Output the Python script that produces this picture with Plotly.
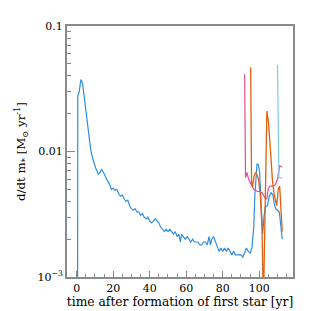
import plotly.graph_objects as go

# ---- data ----
blue_t = [0.5, 0.6, 1.4, 2.3, 3.2, 4.0, 5.0, 5.9, 6.8, 7.7, 8.6, 9.5, 10.4, 11.2, 11.8, 12.7, 13.6, 14.5,
          15.3, 16.2, 17.0, 18.0, 19.0, 20.0, 21.0, 22.0, 23.0, 24.0, 25.0, 26.0, 27.0, 28.0, 29.0, 30.0,
          31.0, 32.0, 33.0, 34.0, 35.0, 36.0, 37.0, 38.0, 39.0, 40.0, 41.0, 42.0, 43.0, 44.0, 45.0, 46.0,
          47.0, 48.0, 49.0, 50.0, 51.0, 52.0, 53.0, 54.0, 55.0, 56.0, 56.8, 57.5, 58.5, 59.5, 60.5, 61.5,
          62.5, 63.5, 64.5, 65.5, 66.5, 67.5, 68.5, 69.5, 70.5, 71.5, 72.5, 73.3, 74.0, 75.0, 76.0, 77.0,
          78.0, 79.0, 80.0, 81.0, 82.0, 83.0, 84.0, 85.0, 86.0, 87.0, 88.0, 89.0, 90.0, 91.0, 92.0, 93.0,
          94.0, 95.0, 96.0, 97.0, 97.6, 98.2, 98.8, 99.6, 100.2, 101.0, 101.9, 102.6, 103.3, 104.5, 105.5,
          106.5, 107.5, 108.3, 109.0, 110.0, 111.0, 112.6]
blue_v = [0.0005, 0.0277, 0.030, 0.0374, 0.035, 0.028, 0.021, 0.017, 0.0139, 0.0103, 0.0090, 0.0081, 0.0074,
          0.0070, 0.0066, 0.0068, 0.0072, 0.0069, 0.0065, 0.0061, 0.0058, 0.0055, 0.0050, 0.0051, 0.0049,
          0.0050, 0.0046, 0.0044, 0.0045, 0.0042, 0.0040, 0.0041, 0.0037, 0.0035, 0.0034, 0.0035, 0.0033,
          0.0033, 0.0031, 0.0032, 0.0030, 0.0029, 0.0030, 0.0028, 0.0027, 0.0028, 0.0029, 0.0028, 0.0027,
          0.0025, 0.0024, 0.0023, 0.0024, 0.0023, 0.0024, 0.0023, 0.0022, 0.0023, 0.0021, 0.0022, 0.0019,
          0.0022, 0.0021, 0.0020, 0.0021, 0.0020, 0.0019, 0.0020, 0.0019, 0.0019, 0.0019, 0.0018, 0.0018,
          0.0019, 0.0019, 0.0018, 0.0021, 0.0018, 0.0020, 0.0021, 0.0019, 0.0017, 0.0016, 0.0017, 0.0016,
          0.0017, 0.0016, 0.0017, 0.0016, 0.0015, 0.0016, 0.0015, 0.0015, 0.0015, 0.0015, 0.00144, 0.0016,
          0.0017, 0.0016, 0.00155, 0.0017, 0.0025, 0.0045, 0.0065, 0.0080, 0.0078, 0.0068, 0.0040, 0.0022,
          0.0030, 0.0036, 0.0037, 0.0044, 0.0047, 0.0045, 0.0038, 0.0035, 0.0034, 0.0033, 0.0020]

lightblue_t = [110.0, 110.4, 110.8, 112.6]
lightblue_v = [0.049, 0.0075, 0.0062, 0.0061]

magenta_t = [92.0, 92.5, 93.3, 94.2, 95.5, 97.0, 99.0, 100.5, 101.5, 102.5, 103.5, 104.2, 105.0, 106.0,
             107.5, 108.7, 110.0, 111.2, 112.6]
magenta_v = [0.0415, 0.0062, 0.0068, 0.0060, 0.0055, 0.0050, 0.0048, 0.0048, 0.0047, 0.0044, 0.0042,
             0.0042, 0.0051, 0.0053, 0.0053, 0.0054, 0.0060, 0.0077, 0.0075]

orange_t = [95.3, 95.8, 96.3, 97.2, 98.0, 98.8, 99.6, 100.6, 101.5, 102.3, 104.2, 105.1, 106.2, 107.2,
            108.2, 109.0, 109.6, 110.4, 111.2, 112.6]
orange_v = [0.047, 0.0058, 0.0052, 0.0064, 0.0068, 0.0065, 0.0060, 0.0045, 0.0025, 0.0006, 0.021, 0.017,
            0.010, 0.0060, 0.0045, 0.0040, 0.0037, 0.0050, 0.0053, 0.0023]

x_ticks = [0, 20, 40, 60, 80, 100]
y_ticks = [0.001, 0.01, 0.1]
y_ticktext = ["10<sup>\u22123</sup>", "0.01", "0.1"]
y_minor = [k * 10.0 ** e for e in (-3, -2) for k in range(2, 10)]

frame = "#8a8a8a"
font = "DejaVu Serif"

fig = go.Figure()
fig.add_trace(go.Scatter(x=blue_t, y=blue_v, mode="lines", line=dict(color="#2f8fe0", width=1.2)))
fig.add_trace(go.Scatter(x=magenta_t, y=magenta_v, mode="lines", line=dict(color="#e0508f", width=1.2)))
fig.add_trace(go.Scatter(x=orange_t, y=orange_v, mode="lines", line=dict(color="#e0600f", width=1.3)))
fig.add_trace(go.Scatter(x=lightblue_t, y=lightblue_v, mode="lines", line=dict(color="#80c8f0", width=1.2)))

fig.update_layout(
    width=311, height=311,
    margin=dict(l=54, r=26, t=17, b=39),
    paper_bgcolor="white", plot_bgcolor="white",
    showlegend=False,
    font=dict(family=font, size=11, color="black"),
    xaxis=dict(
        range=[-5.3, 118.5], tickmode="array", tickvals=x_ticks,
        ticks="inside", ticklen=6, tickwidth=1.2, tickcolor=frame,
        minor=dict(ticks="inside", ticklen=3, tickwidth=1, tickcolor=frame, dtick=5, tick0=0, showgrid=False),
        showline=True, linecolor=frame, linewidth=2, mirror=True,
        showgrid=False, zeroline=False,
        title=dict(text="time after formation of first star [yr]", font=dict(size=12.3), standoff=3),
    ),
    yaxis=dict(
        type="log", range=[-3, -1], tickmode="array", tickvals=y_ticks, ticktext=y_ticktext,
        ticks="inside", ticklen=8, tickwidth=1.2, tickcolor=frame,
        minor=dict(ticks="inside", ticklen=4, tickwidth=1, tickcolor=frame, tickvals=y_minor, showgrid=False),
        showline=True, linecolor=frame, linewidth=2, mirror=True,
        showgrid=False, zeroline=False,
        title=dict(text="d/dt m<sub>*</sub> [M<sub>\u2299</sub> yr<sup>-1</sup>]", font=dict(size=11.8), standoff=9),
    ),
)

fig.write_html("out.html")
